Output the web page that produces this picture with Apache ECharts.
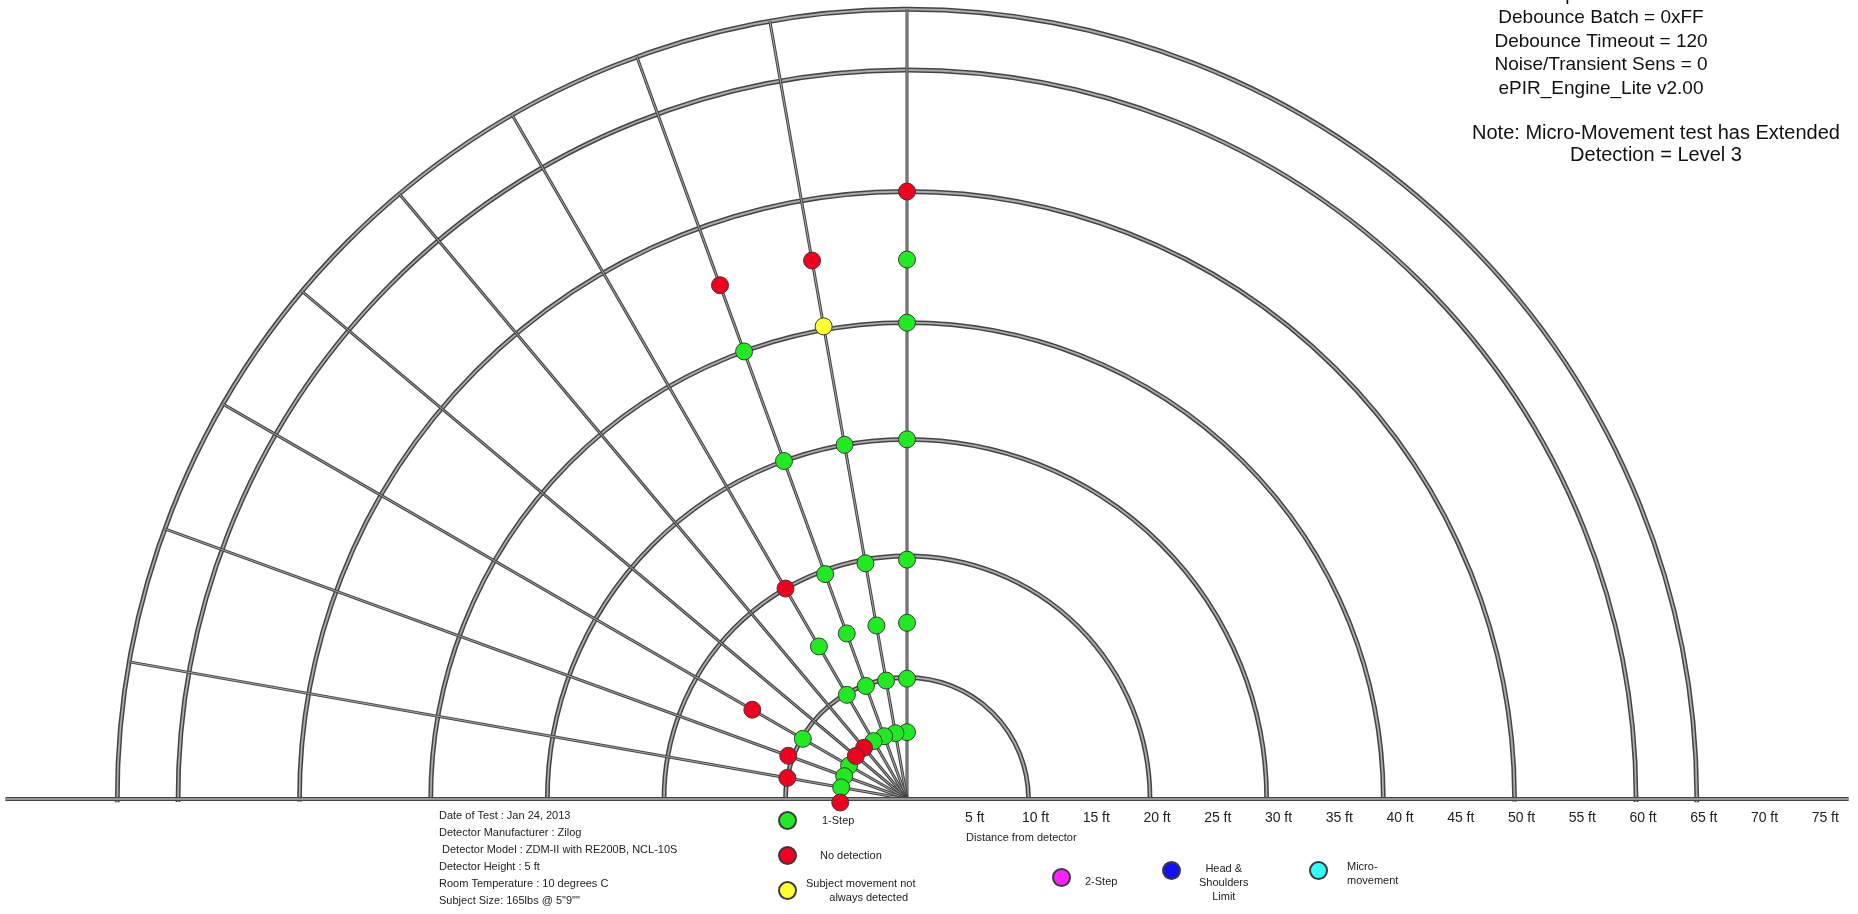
<!DOCTYPE html>
<html>
<head>
<meta charset="utf-8">
<title>PIR detection pattern</title>
<script src="https://cdn.jsdelivr.net/npm/echarts@6.0.0/dist/echarts.min.js"></script>
<style>
html,body{margin:0;padding:0;background:#ffffff;}
#chart{width:1858px;height:914px;}
</style>
</head>
<body>
<div id="chart"></div>
<script>
// ---------------- data ----------------
const distanceTicks = [5, 10, 15, 20, 25, 30, 35, 40, 45, 50, 55, 60, 65, 70, 75];
const arcDistances = [10, 20, 29.6, 39.2, 50, 60, 65];
const spokeAngles = [90, 100, 110, 120, 130, 140, 150, 160, 170];
const spokeReach = [65];
const baselineReach = [74.2, 77.5];   // ft to the left, ft to the right

// points: [distance ft, angle deg]  (0 deg = right, 90 deg = straight ahead)
const oneStep = [
  [5.5, 90], [9.9, 90], [14.5, 90], [19.7, 90], [29.6, 90], [39.2, 90], [44.4, 90],
  [5.5, 100], [9.9, 100], [14.5, 100], [19.7, 100], [29.6, 100],
  [5.5, 110], [9.9, 110], [14.5, 110], [19.7, 110], [29.6, 110], [39.2, 110],
  [5.5, 120], [9.9, 120], [14.5, 120],
  [5.5, 150], [9.9, 150],
  [5.5, 160],
  [5.5, 170]
];
const noDetection = [
  [50, 90], [45, 100], [45, 110], [20, 120], [5.5, 130], [5.5, 140],
  [14.7, 150], [10.4, 160], [10, 170], [5.5, 183]
];
const notAlwaysDetected = [[39.5, 100]];
const twoStep = [];
const headShoulders = [];
const microMovement = [];

const settingsLines = ['Sample Size = 32', 'Debounce Batch = 0xFF', 'Debounce Timeout = 120',
  'Noise/Transient Sens = 0', 'ePIR_Engine_Lite v2.00'];
const noteLines = ['Note: Micro-Movement test has Extended', 'Detection = Level 3'];
const infoLines = ['Date of Test : Jan 24, 2013', 'Detector Manufacturer : Zilog',
  ' Detector Model : ZDM-II with RE200B, NCL-10S', 'Detector Height : 5 ft',
  'Room Temperature : 10 degrees C', 'Subject Size: 165lbs @ 5"9""'];
const axisTitle = 'Distance from detector';

// ---------------- chart ----------------
const FONT = '"Liberation Sans", Arial, Helvetica, sans-serif';
const PX_PER_FT = 12.15;
const CX = 907, CY = 799;

function doubleStroke(type, shape, outerW, innerW, innerColor) {
  return {
    type: 'group',
    children: [
      { type: type, shape: shape, style: { stroke: '#444444', lineWidth: outerW, fill: 'none' } },
      { type: type, shape: shape, style: { stroke: innerColor, lineWidth: innerW, fill: 'none' } }
    ]
  };
}

const chart = echarts.init(document.getElementById('chart'), null, { renderer: 'canvas' });

const dotStyle = (c) => ({ color: c, borderColor: '#3a3a3a', borderWidth: 1, opacity: 1 });
const richBase = { fontFamily: FONT, fontSize: 11, color: '#222', lineHeight: 14 };

function legendBox(name, left, top, padLeft, padTop, fmt, rich) {
  return {
    data: [name],
    left: left, top: top,
    orient: 'vertical',
    itemWidth: 17, itemHeight: 17,
    icon: 'circle',
    selectedMode: false,
    formatter: fmt ? fmt : undefined,
    textStyle: {
      fontFamily: FONT, fontSize: 11, color: '#222',
      padding: [padTop || 0, 0, 0, padLeft],
      rich: rich || {}
    }
  };
}

const option = {
  backgroundColor: '#ffffff',
  animation: false,
  polar: { center: [CX, CY], radius: 75 * PX_PER_FT },
  angleAxis: { type: 'value', min: 0, max: 360, startAngle: 0, clockwise: false, show: false },
  radiusAxis: {
    type: 'value', min: 0, max: 75, interval: 5,
    axisLine: { show: false }, axisTick: { show: false }, splitLine: { show: false },
    axisLabel: {
      showMinLabel: false,
      formatter: (v) => distanceTicks.indexOf(v) >= 0 ? v + ' ft' : '',
      fontFamily: FONT, fontSize: 14, color: '#222',
      margin: -19, verticalAlign: 'middle', padding: [0, 0, 0, 14]
    }
  },
  legend: [
    legendBox('1-Step', 773, 806, 21),
    legendBox('No detection', 773, 841, 19),
    legendBox('Subject movement not always detected', 773, 873, 5, 0,
      () => '{c|Subject movement not}\n{d|always detected}',
      { c: Object.assign({ align: 'center' }, richBase),
        d: Object.assign({ align: 'center', padding: [0, 0, 0, 16] }, richBase) }),
    legendBox('2-Step', 1047, 863, 10, 8),
    legendBox('Head & Shoulders Limit', 1157, 856, 14, 24,
      () => '{c|Head &}\n{c|Shoulders}\n{c|Limit}',
      { c: Object.assign({ align: 'center' }, richBase) }),
    legendBox('Micro-movement', 1304, 856, 15, 6,
      () => '{l|Micro-}\n{l|movement}',
      { l: Object.assign({ align: 'left' }, richBase) })
  ],
  graphic: [
    { type: 'text', x: 1601, y: -17, silent: true,
      style: { text: settingsLines.join('\n'), font: '19px ' + FONT, fill: '#111',
               align: 'center', verticalAlign: 'top', lineHeight: 23.5 } },
    { type: 'text', x: 1656, y: 122, silent: true,
      style: { text: noteLines.join('\n'), font: '20px ' + FONT, fill: '#111',
               align: 'center', verticalAlign: 'top', lineHeight: 22.5 } },
    { type: 'text', x: 439, y: 807, silent: true,
      style: { text: infoLines.join('\n'), font: '11px ' + FONT, fill: '#222',
               align: 'left', verticalAlign: 'top', lineHeight: 17 } },
    { type: 'text', x: 966, y: 832, silent: true,
      style: { text: axisTitle, font: '11px ' + FONT, fill: '#222',
               align: 'left', verticalAlign: 'top' } }
  ],
  series: [
    {
      type: 'custom', name: 'arcs', coordinateSystem: 'polar', silent: true, z: 1,
      data: arcDistances.map(d => [d, 0]),
      renderItem: (params, api) => {
        const c = api.coord([0, 0]);
        const p = api.coord([api.value(0), 0]);
        const r = Math.abs(p[0] - c[0]);
        return doubleStroke('arc', { cx: c[0], cy: c[1], r: r,
          startAngle: Math.PI - 0.004, endAngle: 2 * Math.PI + 0.004, clockwise: true },
          4.8, 1.8, '#ababab');
      }
    },
    {
      type: 'custom', name: 'spokes', coordinateSystem: 'polar', silent: true, z: 2,
      data: spokeAngles.map(a => [spokeReach[0], a]),
      renderItem: (params, api) => {
        const a = api.value(1);
        const p0 = api.coord([0, a]);
        const p1 = api.coord([api.value(0), a]);
        return doubleStroke('line', { x1: p0[0], y1: p0[1], x2: p1[0], y2: p1[1] }, 3, 1, '#a8a8a8');
      }
    },
    {
      type: 'custom', name: 'baseline', coordinateSystem: 'polar', silent: true, z: 2,
      data: [[baselineReach[0], 180, baselineReach[1], 0]],
      renderItem: (params, api) => {
        const p0 = api.coord([api.value(0), api.value(1)]);
        const p1 = api.coord([api.value(2), api.value(3)]);
        return doubleStroke('line', { x1: p0[0], y1: p0[1], x2: p1[0], y2: p1[1] }, 4, 1.6, '#b0b0b0');
      }
    },
    { type: 'scatter', name: '1-Step', coordinateSystem: 'polar', z: 5, symbolSize: 17,
      itemStyle: dotStyle('#22ea22'), data: oneStep },
    { type: 'scatter', name: 'No detection', coordinateSystem: 'polar', z: 6, symbolSize: 17,
      itemStyle: dotStyle('#f0001e'), data: noDetection },
    { type: 'scatter', name: 'Subject movement not always detected', coordinateSystem: 'polar', z: 6,
      symbolSize: 17, itemStyle: dotStyle('#ffff33'), data: notAlwaysDetected },
    { type: 'scatter', name: '2-Step', coordinateSystem: 'polar', symbolSize: 17,
      itemStyle: dotStyle('#ff22ff'), data: twoStep },
    { type: 'scatter', name: 'Head & Shoulders Limit', coordinateSystem: 'polar', symbolSize: 17,
      itemStyle: dotStyle('#1010ff'), data: headShoulders },
    { type: 'scatter', name: 'Micro-movement', coordinateSystem: 'polar', symbolSize: 17,
      itemStyle: dotStyle('#33ffff'), data: microMovement }
  ]
};
chart.setOption(option);
</script>
</body>
</html>
